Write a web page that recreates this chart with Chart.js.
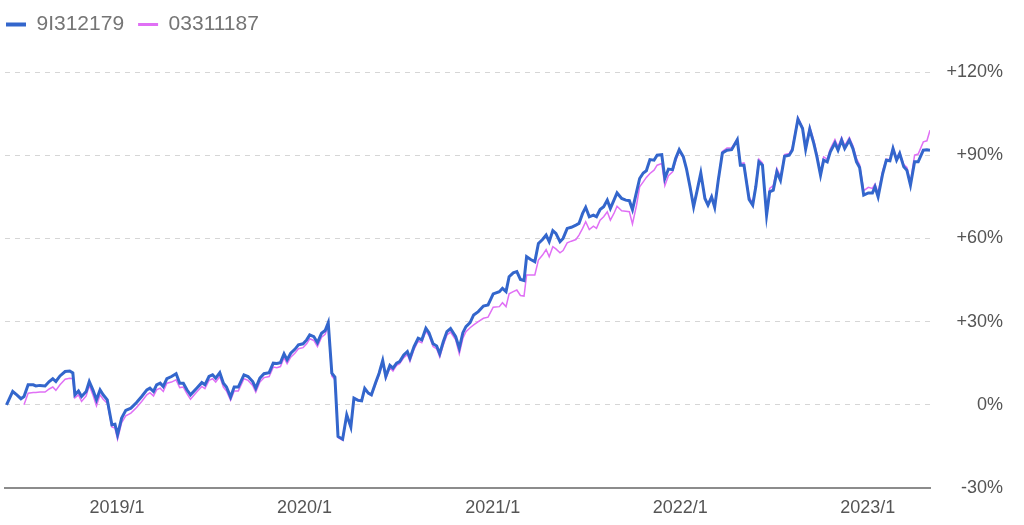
<!DOCTYPE html>
<html>
<head>
<meta charset="utf-8">
<script src="https://cdn.jsdelivr.net/npm/chart.js@4"></script>
<style>
  body { margin: 0; background: #fff; }
  #wrap { width: 1024px; height: 525px; }
</style>
</head>
<body>
<div id="wrap"><canvas id="c"></canvas></div>
<script>
// days since 2018-05-28
const days = [
  3, 15, 23, 31, 37, 45, 55, 60, 68, 78,
  86, 93, 99, 107, 117, 126, 132, 136, 143, 149,
  158, 164, 171, 178, 185, 191, 199, 208, 214, 219,
  227, 235, 245, 256, 266, 276, 282, 289, 295, 302,
  308, 315, 324, 333, 340, 347, 354, 361, 373, 383,
  389, 397, 404, 410, 418, 425, 431, 439, 446, 454,
  465, 473, 482, 488, 496, 504, 514, 522, 529, 536,
  543, 549, 556, 564, 571, 580, 587, 593, 601, 608,
  616, 623, 629, 636, 642, 648, 657, 665, 673, 679,
  687, 694, 700, 707, 713, 722, 728, 735, 741, 749,
  755, 762, 768, 776, 783, 788, 796, 804, 811, 819,
  825, 833, 840, 846, 853, 860, 867, 877, 884, 891,
  897, 905, 912, 921, 931, 940, 950, 962, 968, 975,
  981, 989, 996, 1003, 1010, 1015, 1023, 1031, 1038, 1046,
  1053, 1059, 1066, 1072, 1080, 1086, 1094, 1102, 1111, 1117,
  1124, 1130, 1137, 1145, 1151, 1158, 1165, 1172, 1178, 1185,
  1191, 1200, 1208, 1215, 1221, 1229, 1235, 1242, 1248, 1255,
  1263, 1269, 1278, 1284, 1291, 1299, 1305, 1312, 1320, 1326,
  1333, 1340, 1347, 1354, 1362, 1368, 1375, 1381, 1388, 1396,
  1405, 1414, 1425, 1431, 1438, 1448, 1455, 1461, 1467, 1474,
  1482, 1488, 1495, 1502, 1509, 1517, 1526, 1532, 1543, 1552,
  1558, 1566, 1574, 1580, 1587, 1593, 1600, 1606, 1615, 1621,
  1628, 1634, 1643, 1650, 1657, 1663, 1671, 1680, 1688, 1693,
  1699, 1708, 1715, 1722, 1728, 1735, 1741, 1749, 1755, 1762,
  1770, 1777, 1787, 1794, 1800
]

// % return, fund 9I312179
const fundA = [
  0.0, 4.8, 3.6, 2.2, 3.0, 7.2, 7.2, 6.8, 7.0, 6.8,
  8.4, 9.4, 8.4, 10.4, 12.0, 12.2, 11.5, 3.6, 5.0, 3.0,
  4.8, 8.4, 5.4, 1.8, 5.4, 3.6, 1.8, -7.2, -7.0, -10.8,
  -4.8, -2.0, -1.2, 0.8, 3.0, 5.4, 6.0, 4.8, 7.2, 7.8,
  6.6, 9.4, 10.2, 11.2, 7.8, 7.8, 5.4, 3.6, 6.0, 8.0,
  7.2, 10.2, 10.8, 9.6, 11.6, 7.8, 6.4, 2.8, 6.4, 6.4,
  10.8, 10.2, 8.4, 6.0, 9.6, 11.2, 11.6, 15.0, 14.9, 15.2,
  18.4, 16.2, 18.6, 20.0, 21.6, 22.0, 23.4, 25.2, 24.6, 22.4,
  25.8, 26.8, 29.6, 11.4, 10.0, -11.4, -12.4, -3.6, -8.0, 2.4,
  1.6, 1.4, 5.9, 4.2, 3.6, 8.4, 11.4, 16.0, 10.2, 14.2,
  13.2, 15.0, 15.6, 18.0, 19.2, 16.8, 21.0, 24.0, 23.4, 27.6,
  26.0, 22.0, 21.2, 18.4, 22.8, 26.4, 27.5, 24.6, 20.4, 26.0,
  28.2, 29.6, 32.4, 33.6, 35.6, 36.0, 40.0, 40.8, 42.0, 40.8,
  46.2, 47.6, 48.0, 45.2, 44.8, 53.4, 52.4, 51.6, 58.2, 59.6,
  61.2, 58.8, 62.8, 61.8, 58.8, 60.0, 63.6, 64.0, 64.8, 65.4,
  69.0, 71.2, 67.8, 68.4, 67.8, 70.4, 71.4, 73.8, 70.8, 73.8,
  76.4, 74.4, 73.8, 73.6, 70.4, 76.8, 81.6, 83.6, 84.4, 88.4,
  88.2, 90.0, 90.2, 81.6, 85.0, 84.8, 88.8, 92.0, 89.4, 85.2,
  78.6, 71.4, 77.4, 83.6, 74.4, 72.0, 75.0, 71.2, 81.0, 90.8,
  91.8, 92.0, 95.6, 86.4, 86.4, 74.0, 72.0, 78.6, 87.6, 86.4,
  68.4, 76.8, 77.4, 84.0, 81.0, 89.6, 90.0, 91.8, 103.0, 99.6,
  92.2, 99.4, 94.2, 89.4, 82.8, 88.2, 87.6, 91.2, 94.4, 91.8,
  95.4, 92.4, 95.4, 92.4, 87.6, 85.6, 75.6, 76.4, 76.4, 78.6,
  75.0, 83.4, 88.2, 88.0, 92.4, 88.2, 90.6, 85.8, 84.6, 79.2,
  87.6, 87.6, 91.8, 92.0, 91.8
]

// % return, fund 03311187 (starts a little later)
const fundB = [
  null, null, null, null, 0.0, 4.2, 4.4, 4.4, 4.6, 4.6,
  5.7, 6.4, 5.2, 7.2, 9.2, 9.6, 9.4, 2.5, 3.6, 1.2,
  3.2, 7.0, 3.6, -0.4, 3.6, 2.0, 0.6, -8.0, -8.4, -12.4,
  -6.4, -4.0, -3.0, -1.0, 1.2, 3.6, 4.4, 3.2, 5.4, 6.0,
  4.8, 7.8, 8.2, 9.0, 6.2, 6.4, 4.0, 2.0, 4.6, 6.6,
  5.8, 8.8, 9.4, 8.2, 10.2, 6.4, 5.0, 1.6, 5.0, 5.0,
  9.4, 8.8, 7.0, 4.6, 8.2, 9.8, 10.2, 13.6, 13.4, 13.8,
  17.0, 14.8, 17.2, 18.6, 20.2, 20.6, 22.0, 23.8, 23.2, 21.0,
  24.4, 25.4, 28.4, 10.4, 9.0, -11.8, -12.8, -4.0, -8.2, 2.6,
  1.8, 1.6, 5.6, 4.0, 3.4, 7.8, 10.8, 15.0, 9.4, 13.4,
  12.2, 14.2, 14.8, 17.0, 18.2, 15.6, 20.0, 23.0, 22.4, 26.6,
  25.0, 21.0, 20.2, 17.2, 21.6, 25.2, 26.2, 23.4, 18.4, 24.0,
  26.4, 27.8, 28.8, 30.0, 31.2, 31.6, 35.2, 35.4, 36.8, 35.4,
  40.0, 40.8, 41.4, 39.4, 39.2, 46.8, 46.8, 46.8, 52.2, 54.0,
  56.0, 53.4, 57.0, 56.2, 54.8, 55.6, 58.4, 59.0, 59.6, 61.2,
  63.6, 66.0, 63.2, 64.4, 63.6, 66.6, 67.8, 69.6, 66.6, 69.0,
  71.6, 70.0, 69.8, 69.6, 65.2, 72.0, 78.6, 80.4, 82.0, 83.4,
  84.6, 86.4, 87.0, 79.0, 82.6, 84.0, 87.8, 91.4, 89.0, 85.0,
  78.6, 71.6, 77.6, 83.6, 74.6, 72.2, 75.4, 71.6, 81.4, 91.4,
  92.6, 92.6, 95.8, 87.0, 87.2, 75.0, 72.6, 79.4, 88.6, 87.2,
  69.0, 78.0, 79.0, 85.2, 82.2, 90.2, 90.6, 92.6, 103.6, 100.0,
  93.0, 100.2, 95.2, 90.4, 83.6, 89.4, 88.6, 92.2, 95.6, 93.0,
  96.4, 93.4, 96.4, 93.4, 88.8, 86.6, 77.2, 78.4, 78.0, 79.6,
  76.4, 84.4, 88.6, 88.4, 92.8, 88.8, 91.0, 86.6, 85.6, 80.2,
  90.0, 90.4, 94.8, 95.2, 99.0
]

const seriesNames = ['9I312179', '03311187']
const tickYears = [2019, 2020, 2021, 2022, 2023]
const yTicks = [-30, 0, 30, 60, 90, 120]

const dayOf = (y) => Math.round((Date.UTC(y, 0, 1) - Date.UTC(2018, 4, 28)) / 864e5)
const toPoints = (vals) => days.map((d, i) => ({ x: d, y: vals[i] }))

const font = "'Liberation Sans', Arial, sans-serif"

// push the plot down below the legend
const legendGap = {
  id: 'legendGap',
  beforeInit(chart) {
    const fit = chart.legend.fit
    chart.legend.fit = function () {
      fit.bind(chart.legend)()
      this.height = 72
    }
  }
}

new Chart(document.getElementById('c'), {
  type: 'line',
  data: {
    datasets: [
      {
        label: seriesNames[0],
        data: toPoints(fundA),
        yAxisID: 'y',
        borderColor: '#3366cc',
        backgroundColor: '#3366cc',
        borderWidth: 3,
        pointRadius: 0,
        tension: 0,
      },
      {
        label: seriesNames[1],
        data: toPoints(fundB),
        yAxisID: 'y',
        borderColor: '#e070f5',
        backgroundColor: '#e070f5',
        borderWidth: 1.5,
        pointRadius: 0,
        tension: 0,
      },
    ],
  },
  options: {
    responsive: true,
    maintainAspectRatio: false,
    animation: false,
    layout: { padding: { left: -8, right: 21, top: 0, bottom: 0 } },
    plugins: {
      tooltip: { enabled: false },
      legend: {
        position: 'top',
        align: 'start',
        labels: {
          color: '#757575',
          font: { family: font, size: 21 },
          padding: 14,
          usePointStyle: true,
          pointStyle: 'line',
          pointStyleWidth: 20,
          generateLabels(chart) {
            const items = Chart.defaults.plugins.legend.labels.generateLabels(chart)
            items.forEach((it, i) => {
              it.lineWidth = i === 0 ? 4 : 3
              it.pointStyle = 'line'
            })
            return items
          },
        },
      },
    },
    scales: {
      x: {
        type: 'linear',
        min: 0,
        max: 1800,
        grid: { display: false, drawTicks: false },
        border: { display: true, color: '#8c8c8c', width: 2 },
        afterBuildTicks(scale) {
          scale.ticks = tickYears.map((y) => ({ value: dayOf(y) }))
        },
        afterFit(scale) { scale.height = 37 },
        ticks: {
          padding: 9,
          maxRotation: 0,
          color: '#555',
          font: { family: font, size: 18 },
          callback(value) {
            const i = tickYears.findIndex((y) => dayOf(y) === value)
            return i >= 0 ? tickYears[i] + '/1' : ''
          },
        },
      },
      yl: {
        axis: 'y',
        type: 'linear',
        position: 'left',
        grid: { display: false },
        border: { display: false },
        ticks: { display: false },
        afterFit(scale) { scale.width = 13 },
      },
      y: {
        type: 'linear',
        position: 'right',
        min: -30,
        max: 120,
        afterBuildTicks(scale) {
          scale.ticks = yTicks.map((v) => ({ value: v }))
        },
        afterFit(scale) { scale.width = 73 },
        grid: {
          drawTicks: false,
          color: (ctx) => (ctx.tick && ctx.tick.value === -30 ? 'rgba(0,0,0,0)' : '#d6d6d6'),
          lineWidth: 1,
        },
        border: { display: false, dash: [5, 5] },
        ticks: {
          padding: 4,
          crossAlign: 'far',
          color: '#555',
          font: { family: font, size: 18 },
          callback: (v) => (v > 0 ? '+' : '') + v + '%',
        },
      },
    },
  },
  plugins: [legendGap],
})
</script>
</body>
</html>
